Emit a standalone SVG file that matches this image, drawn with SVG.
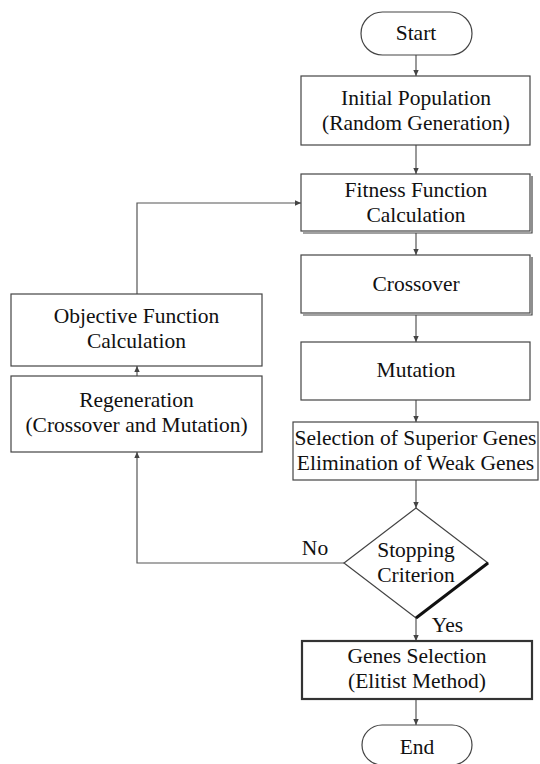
<svg xmlns="http://www.w3.org/2000/svg" width="540" height="764" viewBox="0 0 540 764">
<defs>
<marker id="ah" viewBox="0 0 10 10" refX="10" refY="5" markerWidth="7" markerHeight="6" markerUnits="userSpaceOnUse" orient="auto">
<path d="M0,0.5 L10,5 L0,9.5 z" fill="#444"/>
</marker>
<style>
.box{fill:#fff;stroke:#444;stroke-width:1.2}
.sh{fill:none;stroke:#444;stroke-width:1.2}
text{font-family:"Liberation Serif","DejaVu Serif",serif;font-size:21.5px;fill:#111;text-anchor:middle}
.c{fill:none;stroke:#555;stroke-width:1.2;marker-end:url(#ah)}
</style>
</defs>
<rect width="540" height="764" fill="#fff"/>
<g id="connectors">
<line class="c" x1="416" y1="55" x2="416" y2="76"/>
<line class="c" x1="416" y1="145" x2="416" y2="174"/>
<line class="c" x1="416" y1="233" x2="416" y2="255"/>
<line class="c" x1="416" y1="315" x2="416" y2="342"/>
<line class="c" x1="416" y1="400" x2="416" y2="422"/>
<line class="c" x1="416" y1="480" x2="416" y2="508"/>
<line class="c" x1="416" y1="618" x2="416" y2="641"/>
<line class="c" x1="416" y1="699" x2="416" y2="725"/>
<polyline class="c" points="344,563 137,563 137,452"/>
<line class="c" x1="137" y1="376" x2="137" y2="366"/>
<polyline class="c" points="137,294 137,203 301,203"/>
</g>
<g id="start">
<rect class="box" x="361" y="12" width="111" height="43" rx="21.5"/>
<text x="416" y="40">Start</text>
</g>
<g id="initial">
<rect class="box" x="301" y="76" width="229" height="69"/>
<text x="416" y="105">Initial Population</text>
<text x="416" y="130">(Random Generation)</text>
</g>
<g id="fitness">
<polyline class="sh" points="303,233 532,233 532,176"/>
<rect class="box" x="301" y="174" width="229" height="57"/>
<text x="416" y="197">Fitness Function</text>
<text x="416" y="222">Calculation</text>
</g>
<g id="crossover">
<polyline class="sh" points="303,315 532,315 532,257"/>
<rect class="box" x="301" y="255" width="229" height="58"/>
<text x="416" y="291">Crossover</text>
</g>
<g id="mutation">
<rect class="box" x="301" y="342" width="229" height="58"/>
<text x="416" y="377">Mutation</text>
</g>
<g id="selection">
<rect class="box" x="293" y="422" width="245" height="58"/>
<text x="415.5" y="445">Selection of Superior Genes</text>
<text x="415.5" y="470">Elimination of Weak Genes</text>
</g>
<g id="stopping">
<polygon class="box" points="416,508 488,563 416,618 344,563"/>
<line x1="488" y1="563" x2="416" y2="618" stroke="#111" stroke-width="3"/>
<text x="416" y="557">Stopping</text>
<text x="416" y="582">Criterion</text>
</g>
<g id="genes">
<rect x="302" y="641" width="230" height="58" fill="#fff" stroke="#333" stroke-width="2.2"/>
<text x="417" y="663">Genes Selection</text>
<text x="417" y="688">(Elitist Method)</text>
</g>
<g id="end">
<rect class="box" x="362" y="725" width="110" height="40" rx="20"/>
<text x="417" y="754">End</text>
</g>
<g id="objective">
<rect class="box" x="11" y="294" width="251" height="72"/>
<text x="136.5" y="323">Objective Function</text>
<text x="136.5" y="348">Calculation</text>
</g>
<g id="regeneration">
<rect class="box" x="11" y="376" width="251" height="76"/>
<text x="136.5" y="407">Regeneration</text>
<text x="136.5" y="432">(Crossover and Mutation)</text>
</g>
<g id="labels">
<text x="315" y="555">No</text>
<text x="447.5" y="632">Yes</text>
</g>
</svg>
